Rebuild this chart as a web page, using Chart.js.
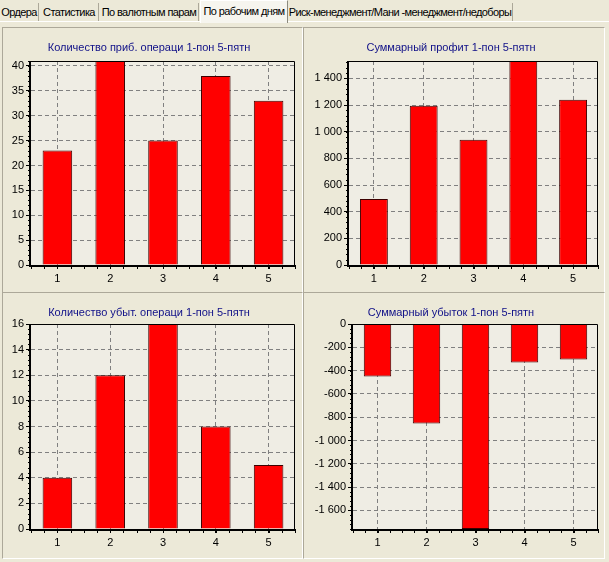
<!DOCTYPE html>
<html lang="ru">
<head>
<meta charset="UTF-8">
<title>По рабочим дням</title>
<script src="https://cdn.jsdelivr.net/npm/chart.js@4.4.1/dist/chart.umd.min.js"></script>
<style>
  body { margin:0; width:609px; height:562px; background:#ECE9D8; position:relative; overflow:hidden;
         font-family:"Liberation Sans", Arial, sans-serif; }
  .tabs { position:absolute; left:0; top:0; width:609px; height:21px; border-bottom:1px solid #fff; }
  .tab { position:absolute; top:3px; height:18px; line-height:19px; font-size:11px; letter-spacing:-0.6px; color:#000;
         text-align:center; white-space:nowrap; border-right:1px solid #aca899; }
  .tab.active { top:0; height:22px; line-height:20px; background:#F6F5EF; border-left:1px solid #fff;
                border-top:1px solid #fff; border-right:1px solid #8c8a7e; z-index:2; }
  .panel { position:absolute; box-sizing:border-box; border-left:1px solid #aca899; border-top:1px solid #aca899;
           border-right:1px solid #fff; border-bottom:1px solid #fff; }
  canvas { position:absolute; }
</style>
</head>
<body>
<div class="tabs">
  <div class="tab" style="left:0;width:38px">Ордера</div>
  <div class="tab" style="left:40px;width:58px">Статистика</div>
  <div class="tab" style="left:100px;width:98px">По валютным парам</div>
  <div class="tab active" style="left:200px;width:86px">По рабочим дням</div>
  <div class="tab" style="left:288px;width:224px">Риск-менеджмент/Мани -менеджмент/недоборы</div>
</div>
<div class="panel" style="left:2px;top:27px;width:301px;height:266px"></div>
<div class="panel" style="left:303px;top:27px;width:302px;height:266px"></div>
<div class="panel" style="left:2px;top:292px;width:301px;height:267px"></div>
<div class="panel" style="left:303px;top:292px;width:302px;height:267px"></div>

<canvas id="c1" width="298" height="263" style="left:3px;top:28px"></canvas>
<canvas id="c2" width="299" height="263" style="left:304px;top:28px"></canvas>
<canvas id="c3" width="298" height="264" style="left:3px;top:293px"></canvas>
<canvas id="c4" width="299" height="264" style="left:304px;top:293px"></canvas>

<script>
// days of week: 1 - Monday ... 5 - Friday
const days = ['1', '2', '3', '4', '5'];
const profitCount = [23, 41, 25, 38, 33];
const profitSum = [495, 1195, 940, 1530, 1240];
const lossCount = [4, 12, 16, 8, 5];
const lossSum = [-450, -855, -1760, -330, -305];

Chart.defaults.font.family = '"Liberation Sans", Arial, sans-serif';
Chart.defaults.font.size = 11;
Chart.defaults.color = '#000';

function fmt(v) {
  const s = String(Math.abs(v)).replace(/\B(?=(\d{3})+(?!\d))/g, ' ');
  return v < 0 ? '-' + s : s;
}

// plot background, frame and small ticks
const framePlugin = {
  id: 'frame',
  beforeDraw(chart) {
    const a = chart.chartArea, ctx = chart.ctx;
    ctx.save();
    ctx.fillStyle = '#EFEDE4';
    ctx.fillRect(a.left, a.top, a.right - a.left, a.bottom - a.top);
    ctx.restore();
  },
  afterDatasetsDraw(chart, args, opts) {
    const a = chart.chartArea, ctx = chart.ctx;
    const x = chart.scales.x, y = chart.scales.y;
    ctx.save();
    ctx.strokeStyle = '#000';
    ctx.lineWidth = 1;
    ctx.beginPath();
    for (let v = -0.5; v <= days.length - 0.5; v += 0.25) {
      const px = Math.round(x.getPixelForValue(v)) + 0.5;
      ctx.moveTo(px, a.bottom); ctx.lineTo(px, a.bottom + 4);
    }
    for (let v = y.min; v <= y.max; v += opts.minor) {
      const py = Math.round(y.getPixelForValue(v)) + 0.5;
      ctx.moveTo(a.left - 3, py); ctx.lineTo(a.left, py);
    }
    ctx.stroke();
    // thin top / right
    ctx.beginPath();
    ctx.moveTo(a.left, a.top + 0.5); ctx.lineTo(a.right - 0.5, a.top + 0.5); ctx.lineTo(a.right - 0.5, a.bottom);
    ctx.stroke();
    // thick left / bottom
    ctx.lineWidth = 2;
    ctx.beginPath();
    ctx.moveTo(a.left - 1, a.top); ctx.lineTo(a.left - 1, a.bottom + 1); ctx.lineTo(a.right, a.bottom + 1);
    ctx.stroke();
    ctx.restore();
  }
};

function makeChart(id, title, values, min, max, step, area) {
  const canvas = document.getElementById(id);
  return new Chart(canvas, {
    type: 'bar',
    data: {
      labels: days,
      datasets: [{
        data: values,
        backgroundColor: '#FF0000',
        borderColor: '#3c0000',
        borderWidth: 1,
        borderSkipped: 'start',
        categoryPercentage: 1,
        barPercentage: 0.56
      }]
    },
    options: {
      responsive: false,
      animation: false,
      layout: { padding: { left: 0, right: canvas.width - area.right, top: area.pad, bottom: 0 } },
      plugins: {
        legend: { display: false },
        tooltip: { enabled: false },
        title: {
          display: true,
          text: title,
          color: '#101088',
          font: { size: 11, weight: 'normal' },
          padding: { top: 0, bottom: area.top - area.pad - 13.2 }
        },
        frame: { minor: step / 5 }
      },
      scales: {
        x: {
          offset: true,
          grid: { offset: false, color: '#808080', tickLength: 4, tickColor: '#000', tickBorderDash: [] },
          border: { display: false, dash: [4, 3] },
          ticks: { padding: 3 },
          afterFit(s) { s.height = canvas.height - area.bottom; }
        },
        y: {
          min: min,
          max: max,
          grid: { color: '#808080', tickLength: 5, tickColor: '#000', tickBorderDash: [] },
          border: { display: false, dash: [4, 3] },
          ticks: { stepSize: step, padding: 2, callback: (v) => fmt(v) },
          afterBuildTicks(s) {
            const t = [];
            for (let v = Math.ceil(min / step) * step; v <= max + 1e-9; v += step) t.push({ value: v });
            s.ticks = t;
          },
          afterFit(s) { s.width = area.left; }
        }
      }
    },
    plugins: [framePlugin]
  });
}

makeChart('c1', 'Количество приб. операци 1-пон 5-пятн', profitCount, 0, Math.max(...profitCount), 5,
  { left: 28, right: 292, top: 33, bottom: 237, pad: 13 });
makeChart('c2', 'Суммарный профит 1-пон 5-пятн', profitSum, 0, Math.max(...profitSum), 200,
  { left: 45, right: 294, top: 33, bottom: 237, pad: 13 });
makeChart('c3', 'Количество убыт. операци 1-пон 5-пятн', lossCount, 0, Math.max(...lossCount), 2,
  { left: 28, right: 292, top: 31, bottom: 236, pad: 13 });
makeChart('c4', 'Суммарный убыток 1-пон 5-пятн', lossSum, Math.min(...lossSum), 0, 200,
  { left: 49, right: 294, top: 31, bottom: 236, pad: 13 });
</script>
</body>
</html>
